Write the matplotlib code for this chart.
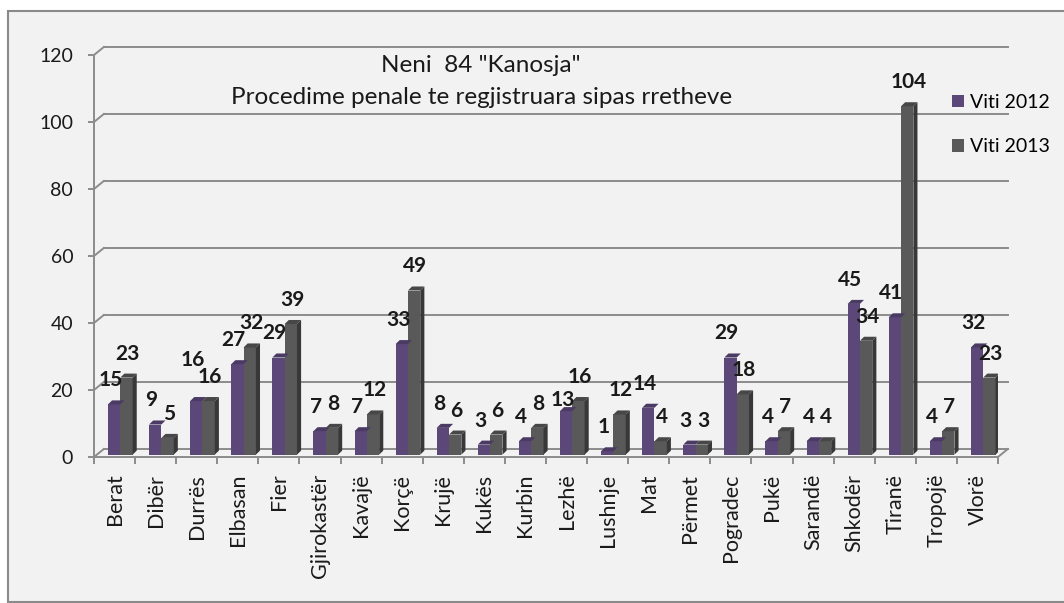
import matplotlib
matplotlib.use("Agg")
import matplotlib.pyplot as plt
from matplotlib.patches import Rectangle, Polygon
import numpy as np

plt.rcParams['font.family'] = ['Lato', 'DejaVu Sans']

# te dhenat
rrethet = ["Berat", "Dibër", "Durrës", "Elbasan", "Fier", "Gjirokastër", "Kavajë",
           "Korçë", "Krujë", "Kukës", "Kurbin", "Lezhë", "Lushnje", "Mat", "Përmet",
           "Pogradec", "Pukë", "Sarandë", "Shkodër", "Tiranë", "Tropojë", "Vlorë"]
viti_2012 = [15, 9, 16, 27, 29, 7, 7, 33, 8, 3, 4, 13, 1, 14, 3, 29, 4, 4, 45, 41, 4, 32]
viti_2013 = [23, 5, 16, 32, 39, 8, 12, 49, 6, 6, 8, 16, 12, 4, 3, 18, 7, 4, 34, 104, 7, 23]
yticks = [0, 20, 40, 60, 80, 100, 120]

c12 = '#5c4878'
c12_top = '#4a3a64'
c13 = '#595959'
c13_top = '#474747'
c13_side = '#383838'
grid_c = '#8c8c8c'
txt_c = '#1a1a1a'

fig = plt.figure(figsize=(10.64, 6.03), dpi=100)
fig.patches.append(Rectangle((8/1064, 1/603), 1.2, 591/603, transform=fig.transFigure,
                             facecolor='#f2f2f2', edgecolor='#8a8a8a', lw=1.5, zorder=-10))
ax = fig.add_axes([94/1064, 1-457/603, 904/1064, 402/603])
ax.set_facecolor('none')

x = np.arange(len(rrethet))
n = len(rrethet)
w = 0.3       # gjeresia e shtylles
dx, dy = 0.1, 1.2   # thellesia 3d
lift = 0.7
gx, gy = 0.24, 2.4  # muri i pasem

ax.set_xlim(-0.5, n - 0.5)
ax.set_ylim(0, 120)

# vijat e murit te pasem
for v in yticks:
    ax.plot([-0.5 + gx, n - 0.5 + gx], [v + gy, v + gy], color=grid_c, lw=1.4, clip_on=False, zorder=1)
    ax.plot([-0.5, -0.5 + gx], [v, v + gy], color=grid_c, lw=1.4, clip_on=False, zorder=1)
ax.plot([n - 0.5, n - 0.5 + gx], [0, gy], color=grid_c, lw=1.4, clip_on=False, zorder=1)

# shtyllat
ax.bar(x - 0.16, viti_2012, width=w, bottom=lift, align='edge', color=c12, zorder=3, label='Viti 2012')
ax.bar(x + 0.14, viti_2013, width=w, bottom=lift, align='edge', color=c13, zorder=3, label='Viti 2013')
for i in range(n):
    a, b = viti_2012[i] + lift, viti_2013[i] + lift
    x0 = i - 0.16
    ax.add_patch(Polygon([(x0, a), (x0 + w, a), (x0 + w + dx, a + dy), (x0 + dx, a + dy)],
                         closed=True, facecolor=c12_top, edgecolor='none', zorder=3))
    x1 = i + 0.14
    ax.add_patch(Polygon([(x1, b), (x1 + w, b), (x1 + w + dx, b + dy), (x1 + dx, b + dy)],
                         closed=True, facecolor=c13_top, edgecolor='none', zorder=3))
    ax.add_patch(Polygon([(x1 + w, lift), (x1 + w + dx, lift + dy), (x1 + w + dx, b + dy), (x1 + w, b)],
                         closed=True, facecolor=c13_side, edgecolor='none', zorder=3))

# etiketat e vlerave
for i in range(n):
    a, b = viti_2012[i], viti_2013[i]
    off = 19
    # kur vlerat jane afer, etiketa e 2012 zhvendoset qe te mos mbivendoset
    if abs(a - b) < 5 and a >= 10 and b >= 10:
        off = 31 if a >= b else 10
    ax.annotate(str(a), (i - 0.1, a), xytext=(0, off), textcoords='offset points',
                ha='center', va='center', fontsize=15, fontweight='bold', color=txt_c, zorder=5)
    ax.annotate(str(b), (i + 0.32, b), xytext=(0, 19), textcoords='offset points',
                ha='center', va='center', fontsize=15, fontweight='bold', color=txt_c, zorder=5)

# boshtet
for s in ['top', 'right']:
    ax.spines[s].set_visible(False)
for s in ['left', 'bottom']:
    ax.spines[s].set_color(grid_c)
    ax.spines[s].set_linewidth(1.4)
ax.set_yticks(yticks)
ax.tick_params(axis='y', direction='out', length=4, width=1.4, color=grid_c, pad=11,
               labelsize=14, labelcolor=txt_c)
ax.set_xticks(x)
ax.set_xticklabels(rrethet, rotation=90)
ax.set_xticks(np.arange(n + 1) - 0.5, minor=True)
ax.tick_params(axis='x', which='major', length=0, pad=12, labelsize=15.5, labelcolor=txt_c)
ax.tick_params(axis='x', which='minor', direction='out', length=5, width=1.4, color=grid_c)

# titulli
fig.text(481/1064, 1 - 66/603, 'Neni  84 "Kanosja"', ha='center', va='center', fontsize=17.5, color=txt_c)
fig.text(482/1064, 1 - 98/603, 'Procedime penale te regjistruara sipas rretheve', ha='center',
         va='center', fontsize=17.5, color=txt_c)

ax.legend(loc='upper left', bbox_to_anchor=(952/1064, 1 - 94/603), bbox_transform=fig.transFigure,
          frameon=False, fontsize=14, handlelength=0.6, handleheight=0.6, handletextpad=0.3,
          labelspacing=1.4, borderaxespad=0, borderpad=0)

fig.savefig('out.png', dpi=100)
